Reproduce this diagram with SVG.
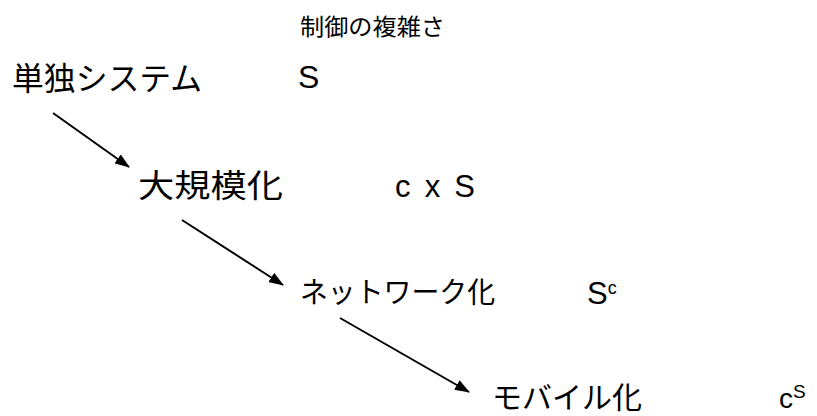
<svg xmlns="http://www.w3.org/2000/svg" width="817" height="416" viewBox="0 0 817 416">
<style>
text{font-family:"Liberation Sans","Noto Sans CJK JP",sans-serif;fill:#000}
.c{stroke:#000;stroke-width:2;fill:none;marker-end:url(#ah)}
</style>
<defs>
<marker id="ah" markerWidth="15" markerHeight="11" refX="14" refY="5.5" orient="auto" markerUnits="userSpaceOnUse" viewBox="0 0 15 11">
<path d="M0,0 L15,5.5 L0,11 z" fill="#000"/>
</marker>
</defs>
<rect width="817" height="416" fill="#fff"/>
<g id="header"><text x="300" y="35" font-size="23" textLength="145" lengthAdjust="spacingAndGlyphs">制御の複雑さ</text></g>
<g id="n1"><text x="12" y="90" font-size="32" textLength="190" lengthAdjust="spacingAndGlyphs">単独システム</text><text x="298" y="88" font-size="32">S</text></g>
<g id="n2"><text x="138" y="197" font-size="32" textLength="145" lengthAdjust="spacingAndGlyphs">大規模化</text><text x="395" y="197" font-size="31" xml:space="preserve" textLength="80" lengthAdjust="spacing">c x S</text></g>
<g id="n3"><text x="300" y="303" font-size="29" textLength="195" lengthAdjust="spacingAndGlyphs">ネットワーク化</text><text x="587" y="304" font-size="31">S<tspan font-size="18" dy="-10">c</tspan></text></g>
<g id="n4"><text x="492" y="408" font-size="30" textLength="150" lengthAdjust="spacingAndGlyphs">モバイル化</text><text x="779" y="408" font-size="28">c<tspan font-size="19" dy="-10">S</tspan></text></g>
<g id="connectors">
<line class="c" x1="53" y1="113" x2="129" y2="167"/>
<line class="c" x1="182" y1="220" x2="283" y2="285"/>
<line class="c" x1="340" y1="318" x2="469" y2="392"/>
</g>
</svg>
